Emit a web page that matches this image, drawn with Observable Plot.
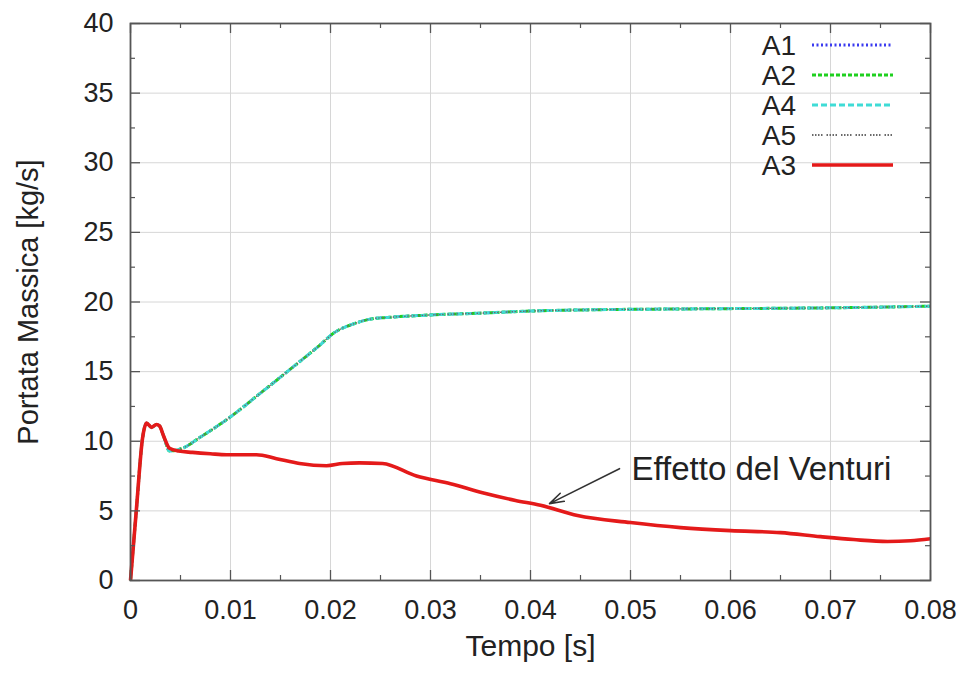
<!DOCTYPE html>
<html>
<head>
<meta charset="utf-8">
<script src="https://cdn.jsdelivr.net/npm/d3@7"></script>
<script src="https://cdn.jsdelivr.net/npm/@observablehq/plot@0.6"></script>
<style>
  html, body { margin: 0; padding: 0; background: #fff; }
  #chart { position: relative; width: 966px; height: 673px; }
  svg { font-family: "Liberation Sans", Arial, Helvetica, sans-serif; }
</style>
</head>
<body>
<div id="chart"></div>
<script>
// ---- data ----
const seriesNames = ["A1", "A2", "A4", "A5", "A3"];
const xTicks = [0, 0.01, 0.02, 0.03, 0.04, 0.05, 0.06, 0.07, 0.08];
const xTickLabels = ["0", "0.01", "0.02", "0.03", "0.04", "0.05", "0.06", "0.07", "0.08"];
const xMinor = [0.005, 0.015, 0.025, 0.035, 0.045, 0.055, 0.065, 0.075];
const yTicks = [0, 5, 10, 15, 20, 25, 30, 35, 40];
const yMinor = [2.5, 7.5, 12.5, 17.5, 22.5, 27.5, 32.5, 37.5];

// A3 (with Venturi)
const timeA3 = [0, 0.0006, 0.0012, 0.0016, 0.0021, 0.0026, 0.0029, 0.0033, 0.0039, 0.0048,
  0.0062, 0.0080, 0.0096, 0.0126, 0.0146, 0.0169, 0.0196, 0.0212, 0.0229, 0.0252,
  0.0286, 0.0320, 0.0352, 0.0385, 0.0410, 0.0447, 0.0500, 0.0550, 0.0600, 0.0650,
  0.0690, 0.0723, 0.0757, 0.0780, 0.0800];
const valuesA3 = [0, 5.2, 10.2, 11.3, 11.0, 11.2, 11.1, 10.4, 9.5, 9.3,
  9.2, 9.1, 9.03, 9.03, 8.75, 8.4, 8.24, 8.4, 8.45, 8.4,
  7.5, 6.95, 6.3, 5.75, 5.4, 4.66, 4.16, 3.8, 3.58, 3.44,
  3.15, 2.94, 2.8, 2.85, 3.0];

// A1, A2, A4, A5 (overlapping curves)
const timeOthers = [0, 0.0006, 0.0012, 0.0016, 0.0021, 0.0026, 0.0029, 0.0033, 0.0039, 0.0052,
  0.0070, 0.0085, 0.0099, 0.0129, 0.0162, 0.0186, 0.0206, 0.0222, 0.0242, 0.0259,
  0.0300, 0.0350, 0.0400, 0.0470, 0.0550, 0.0650, 0.0720, 0.0800];
const valuesA1 = [0, 5.2, 10.2, 11.3, 11.0, 11.2, 11.1, 10.4, 9.3, 9.5,
  10.3, 11.0, 11.7, 13.4, 15.3, 16.7, 17.9, 18.4, 18.8, 18.9,
  19.07, 19.2, 19.35, 19.45, 19.5, 19.55, 19.6, 19.7];
const valuesA2 = [0, 5.2, 10.2, 11.3, 11.0, 11.2, 11.1, 10.4, 9.3, 9.5,
  10.3, 11.0, 11.7, 13.4, 15.3, 16.7, 17.9, 18.4, 18.8, 18.9,
  19.07, 19.2, 19.35, 19.45, 19.5, 19.55, 19.6, 19.7];
const valuesA4 = [0, 5.2, 10.2, 11.3, 11.0, 11.2, 11.1, 10.4, 9.3, 9.5,
  10.3, 11.0, 11.7, 13.4, 15.3, 16.7, 17.9, 18.4, 18.8, 18.9,
  19.07, 19.2, 19.35, 19.45, 19.5, 19.55, 19.6, 19.7];
const valuesA5 = [0, 5.2, 10.2, 11.3, 11.0, 11.2, 11.1, 10.4, 9.3, 9.5,
  10.3, 11.0, 11.7, 13.4, 15.3, 16.7, 17.9, 18.4, 18.8, 18.9,
  19.07, 19.2, 19.35, 19.45, 19.5, 19.55, 19.6, 19.7];

const annotationText = "Effetto del Venturi";
const annotationArrow = {x1: 0.0489, y1: 8.03, x2: 0.0419, y2: 5.52};
const annotationPos = {x: 0.0501, y: 8.0};

// ---- styles ----
const styles = {
  A1: {stroke: "#3b3bf0", strokeWidth: 2.6, dash: "2,2.5"},
  A2: {stroke: "#1fd01f", strokeWidth: 3, dash: "4,2"},
  A4: {stroke: "#3fdcd6", strokeWidth: 3, dash: "6,3"},
  A5: {stroke: "#6a6a6a", strokeWidth: 1.3, dash: "1.5,1.5,1.5,1.5,1.5,1.5,1.5,4"},
  A3: {stroke: "#e41a1a", strokeWidth: 3.6, dash: null}
};

const toRows = (ts, vs) => ts.map((t, i) => ({t, v: vs[i]}));
const rows = {
  A1: toRows(timeOthers, valuesA1),
  A2: toRows(timeOthers, valuesA2),
  A4: toRows(timeOthers, valuesA4),
  A5: toRows(timeOthers, valuesA5),
  A3: toRows(timeA3, valuesA3)
};

const W = 966, H = 673;
const mL = 130, mR = 36, mT = 23, mB = 93;
const pw = W - mL - mR, ph = H - mT - mB;
const frameColor = "#555";
const textColor = "#222";

const lineMarks = ["A1", "A2", "A4", "A5", "A3"].map(k => Plot.line(rows[k], {
  x: "t", y: "v", stroke: styles[k].stroke, strokeWidth: styles[k].strokeWidth,
  strokeDasharray: styles[k].dash || undefined, strokeLinejoin: "round", strokeLinecap: "butt",
  curve: "monotone-x"
}));

const chart = Plot.plot({
  width: W, height: H,
  marginLeft: mL, marginRight: mR, marginTop: mT, marginBottom: mB,
  style: {fontFamily: "'Liberation Sans', Arial, Helvetica, sans-serif", color: textColor, background: "#fff"},
  x: {domain: [0, 0.08], axis: null},
  y: {domain: [0, 40], axis: null},
  marks: [
    Plot.gridX(xTicks, {stroke: "#d6d6d6", strokeOpacity: 1, strokeWidth: 1}),
    Plot.gridY(yTicks, {stroke: "#d6d6d6", strokeOpacity: 1, strokeWidth: 1}),
    ...lineMarks,
    // inward ticks, major
    Plot.tickX(xTicks, {x: d => d, insetTop: ph - 10, stroke: frameColor, strokeWidth: 1.3}),
    Plot.tickX(xTicks, {x: d => d, insetBottom: ph - 10, stroke: frameColor, strokeWidth: 1.3}),
    Plot.tickY(yTicks, {y: d => d, insetRight: pw - 10, stroke: frameColor, strokeWidth: 1.3}),
    Plot.tickY(yTicks, {y: d => d, insetLeft: pw - 10, stroke: frameColor, strokeWidth: 1.3}),
    // minor
    Plot.tickX(xMinor, {x: d => d, insetTop: ph - 5, stroke: frameColor, strokeWidth: 1.2}),
    Plot.tickX(xMinor, {x: d => d, insetBottom: ph - 5, stroke: frameColor, strokeWidth: 1.2}),
    Plot.tickY(yMinor, {y: d => d, insetRight: pw - 5, stroke: frameColor, strokeWidth: 1.2}),
    Plot.tickY(yMinor, {y: d => d, insetLeft: pw - 5, stroke: frameColor, strokeWidth: 1.2}),
    Plot.frame({stroke: frameColor, strokeWidth: 1.8}),
    Plot.axisX(xTicks, {tickSize: 0, tickPadding: 19, fontSize: 27, fill: textColor,
      tickFormat: (d) => xTickLabels[xTicks.indexOf(d)], label: null}),
    Plot.axisY(yTicks, {tickSize: 0, tickPadding: 17, fontSize: 27, fill: textColor,
      tickFormat: d => String(d), label: null}),
    Plot.text(["Tempo [s]"], {frameAnchor: "bottom", text: d => d, dy: 75, fontSize: 30, fill: textColor}),
    Plot.text(["Portata Massica [kg/s]"], {frameAnchor: "left", text: d => d, rotate: -90, dx: -102,
      textAnchor: "middle", fontSize: 29, fill: textColor}),
    Plot.arrow([annotationArrow], {x1: "x1", y1: "y1", x2: "x2", y2: "y2", stroke: "#333", strokeWidth: 1.6, headLength: 14, headAngle: 35}),
    Plot.text([annotationText], {x: annotationPos.x, y: annotationPos.y, text: d => d, textAnchor: "start", fontSize: 33, fill: textColor})
  ]
});

document.getElementById("chart").appendChild(chart);

// ---- legend (inside the plot, top right) ----
const svg = d3.select(chart);
const lg = svg.append("g").attr("class", "legend");
seriesNames.forEach((k, i) => {
  const yy = 45 + i * 30;
  lg.append("text").attr("x", 796).attr("y", yy).attr("dy", "0.35em")
    .attr("text-anchor", "end").attr("font-size", 28).attr("fill", textColor).text(k);
  lg.append("line").attr("x1", 812).attr("x2", 893).attr("y1", yy).attr("y2", yy)
    .attr("stroke", styles[k].stroke).attr("stroke-width", k === "A3" ? 3.6 : (k === "A5" ? 1.8 : 2.8))
    .attr("stroke-dasharray", styles[k].dash || null);
});
</script>
</body>
</html>
